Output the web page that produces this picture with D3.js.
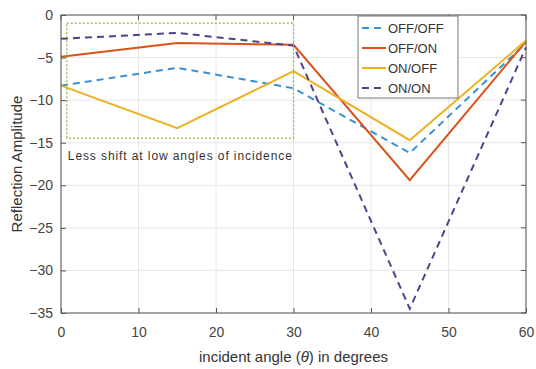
<!DOCTYPE html>
<html>
<head>
<meta charset="utf-8">
<script src="https://cdn.jsdelivr.net/npm/d3@7"></script>
<style>
  html, body { margin: 0; padding: 0; background: #fff; }
  svg { display: block; font-family: "Liberation Sans", Arial, sans-serif; }
</style>
</head>
<body>
<svg id="chart" width="536" height="369"></svg>
<script>
// Incident angles (degrees)
const angles = [0, 15, 30, 45, 60];

// Reflection amplitude per switching state
const offOff = [-8.3, -6.2, -8.6, -16.2, -3.3];
const offOn  = [-4.9, -3.3, -3.5, -19.4, -3.1];
const onOff  = [-8.3, -13.3, -6.6, -14.7, -3.0];
const onOn   = [-2.8, -2.1, -3.6, -34.5, -3.8];

const seriesNames = ["OFF/OFF", "OFF/ON", "ON/OFF", "ON/ON"];
const seriesValues = [offOff, offOn, onOff, onOn];

const xTicks = [0, 10, 20, 30, 40, 50, 60];
const yTicks = [0, -5, -10, -15, -20, -25, -30, -35];

// Highlighted low-angle region
const zoneX = [0.75, 30];
const zoneY = [-0.95, -14.45];
const zoneNote = "Less shift at low angles of incidence";

const styles = [
  { color: "#3d8fcf", dash: "7,5" },
  { color: "#d95319", dash: null },
  { color: "#edb120", dash: null },
  { color: "#55408a", dash: "7,5" }
];

const svg = d3.select("#chart");
const m = { left: 61, right: 10, top: 15, bottom: 56 };
const W = 536, H = 369;
const x = d3.scaleLinear().domain([0, 60]).range([m.left, W - m.right]);
const y = d3.scaleLinear().domain([-35, 0]).range([H - m.bottom, m.top]);

// grid
const grid = svg.append("g");
grid.selectAll(".gx").data(xTicks).enter().append("line")
  .attr("x1", d => x(d)).attr("x2", d => x(d))
  .attr("y1", y(0)).attr("y2", y(-35))
  .attr("stroke", "#e6e6e6").attr("stroke-width", 1);
grid.selectAll(".gy").data(yTicks).enter().append("line")
  .attr("x1", x(0)).attr("x2", x(60))
  .attr("y1", d => y(d)).attr("y2", d => y(d))
  .attr("stroke", "#e6e6e6").attr("stroke-width", 1);

// series
const line = d3.line().x((d, i) => x(angles[i])).y(d => y(d));
seriesValues.forEach((vals, k) => {
  svg.append("path")
    .datum(vals)
    .attr("d", line)
    .attr("fill", "none")
    .attr("stroke", styles[k].color)
    .attr("stroke-width", 2)
    .attr("stroke-dasharray", styles[k].dash);
});

// highlighted region box
svg.append("rect")
  .attr("x", x(zoneX[0])).attr("y", y(zoneY[0]))
  .attr("width", x(zoneX[1]) - x(zoneX[0]))
  .attr("height", y(zoneY[1]) - y(zoneY[0]))
  .attr("fill", "none")
  .attr("stroke", "#8fb03a")
  .attr("stroke-width", 1.2)
  .attr("stroke-dasharray", "2,2");
svg.append("text")
  .attr("x", x(zoneX[0]) + 1).attr("y", y(zoneY[1]) + 22)
  .attr("font-size", 12).attr("fill", "#333")
  .attr("textLength", 224)
  .text(zoneNote);

// axes box
const axisColor = "#555";
svg.append("rect")
  .attr("x", x(0)).attr("y", y(0))
  .attr("width", x(60) - x(0)).attr("height", y(-35) - y(0))
  .attr("fill", "none").attr("stroke", axisColor).attr("stroke-width", 1);

const xAxis = svg.append("g").attr("transform", `translate(0,${y(-35)})`)
  .call(d3.axisBottom(x).tickValues(xTicks).tickSize(-5).tickPadding(14).tickFormat(d3.format("d")));
const yAxis = svg.append("g").attr("transform", `translate(${x(0)},0)`)
  .call(d3.axisLeft(y).tickValues(yTicks).tickSize(-5).tickPadding(8).tickFormat(d3.format("d")));
[xAxis, yAxis].forEach(a => {
  a.select(".domain").remove();
  a.selectAll("line").attr("stroke", axisColor);
  a.selectAll("text").attr("font-size", 14).attr("fill", "#444")
    .attr("font-family", "'Liberation Sans', Arial, sans-serif");
});
// top/right inward ticks
svg.append("g").selectAll("line").data(xTicks).enter().append("line")
  .attr("x1", d => x(d)).attr("x2", d => x(d))
  .attr("y1", y(0)).attr("y2", y(0) + 5).attr("stroke", axisColor);
svg.append("g").selectAll("line").data(yTicks).enter().append("line")
  .attr("x1", x(60)).attr("x2", x(60) - 5)
  .attr("y1", d => y(d)).attr("y2", d => y(d)).attr("stroke", axisColor);

// axis titles
svg.append("text")
  .attr("x", (x(0) + x(60)) / 2).attr("y", 362)
  .attr("text-anchor", "middle").attr("font-size", 15).attr("fill", "#333")
  .html("incident angle (<tspan font-style='italic'>θ</tspan>) in degrees");
svg.append("text")
  .attr("transform", `translate(22,${(y(0) + y(-35)) / 2}) rotate(-90)`)
  .attr("text-anchor", "middle").attr("font-size", 15).attr("fill", "#333")
  .text("Reflection Amplitude");

// legend
const lg = svg.append("g").attr("transform", "translate(358,16)");
lg.append("rect").attr("width", 100).attr("height", 82)
  .attr("fill", "#fff").attr("stroke", "#777").attr("stroke-width", 1);
seriesNames.forEach((name, k) => {
  const yy = 12 + k * 20;
  lg.append("line").attr("x1", 4).attr("x2", 28).attr("y1", yy).attr("y2", yy)
    .attr("stroke", styles[k].color).attr("stroke-width", 2)
    .attr("stroke-dasharray", styles[k].dash);
  lg.append("text").attr("x", 30).attr("y", yy + 5)
    .attr("font-size", 13).attr("fill", "#333").text(name);
});
</script>
</body>
</html>
